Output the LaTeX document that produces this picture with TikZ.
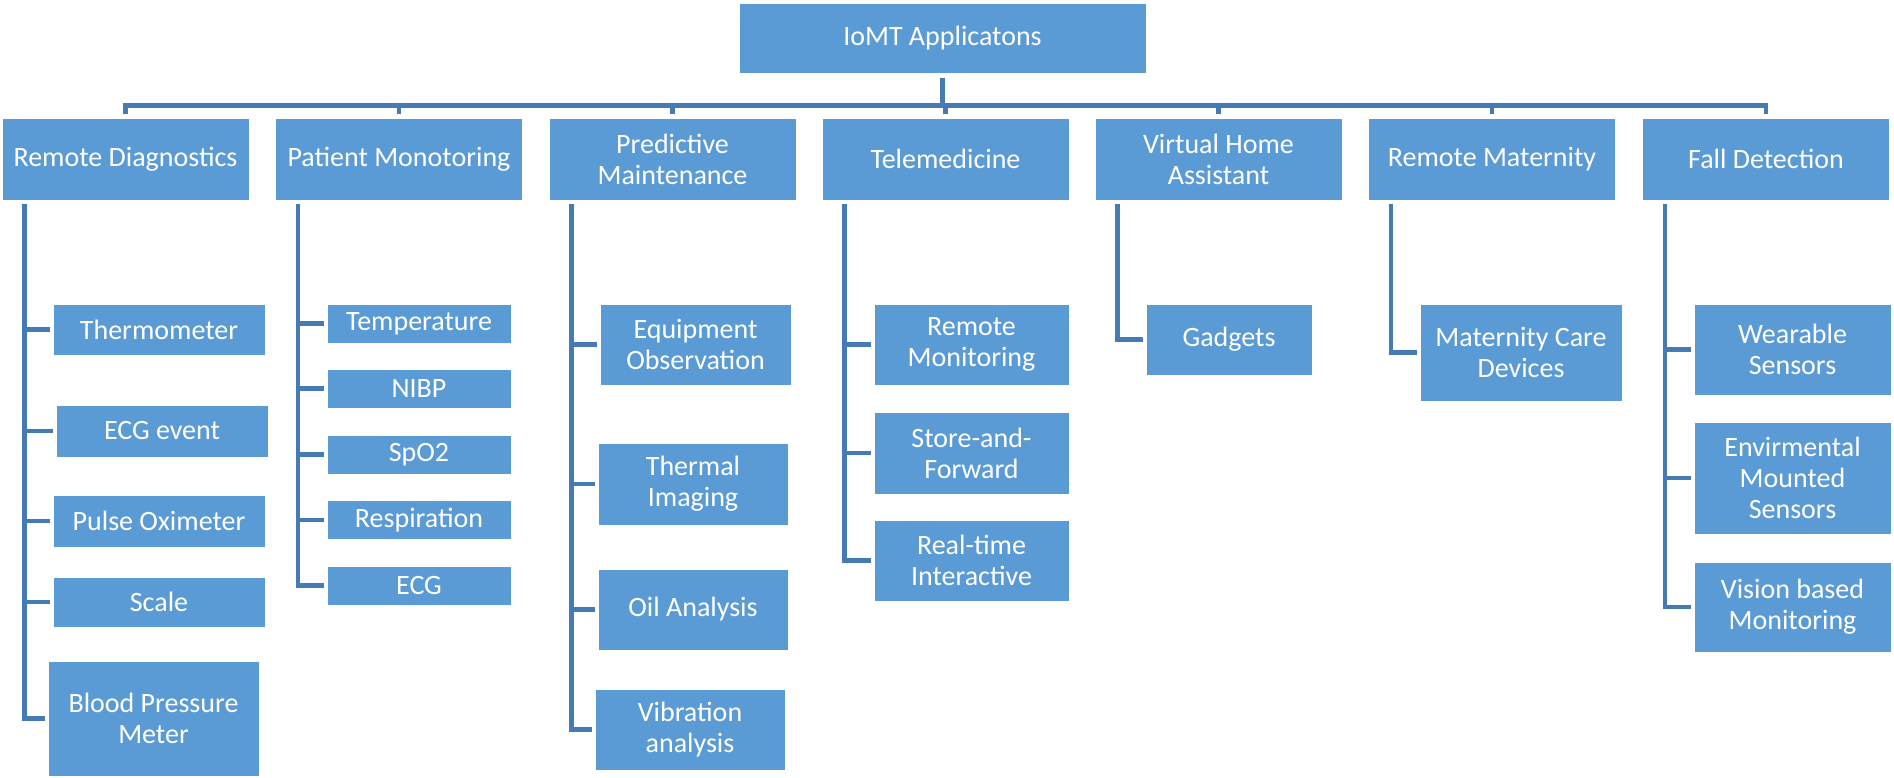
\documentclass[tikz,border=0pt]{standalone}
\usepackage{fontspec}
\setmainfont{Carlito}
\definecolor{boxblue}{RGB}{91,155,213}
\definecolor{lineblue}{RGB}{70,122,180}
\tikzset{
  box/.style={draw=white, line width=0.8pt, fill=boxblue, text=white, align=center,
    inner sep=0pt, font=\fontsize{28}{31}\selectfont},
  link/.style={draw=lineblue, line width=4.5pt},
  branch/.style={link, shorten <=4pt, shorten >=3pt}
}
\begin{document}
\begin{tikzpicture}[x=1pt,y=-1pt]
\useasboundingbox (0,0) rectangle (1894,778);

\node[box, minimum width=407pt, minimum height=70pt] (root) at (942.5,38) {IoMT Applicatons};

% first level
\node[box, minimum width=247pt, minimum height=82pt] (rd) at (125.5,159) {Remote Diagnostics};
\node[box, minimum width=247pt, minimum height=82pt] (pm) at (399,159) {Patient Monotoring};
\node[box, minimum width=247pt, minimum height=82pt] (pdm) at (672.5,159) {Predictive\\Maintenance};
\node[box, minimum width=247pt, minimum height=82pt] (tm) at (945.5,159) {Telemedicine};
\node[box, minimum width=247pt, minimum height=82pt] (vha) at (1218.5,159) {Virtual Home\\Assistant};
\node[box, minimum width=247pt, minimum height=82pt] (rm) at (1492,159) {Remote Maternity};
\node[box, minimum width=247pt, minimum height=82pt] (fd) at (1766,159) {Fall Detection};

\foreach \n in {rd,pm,pdm,tm,vha,rm,fd}
  \draw[link, shorten <=5pt, shorten >=4pt] (root.south) -- ++(0,32) -| (\n.north);

% remote diagnostics
\node[box, minimum width=212pt, minimum height=51pt] (th) at (159,329.5) {Thermometer};
\node[box, minimum width=212pt, minimum height=52pt] (ecge) at (162,431) {ECG event};
\node[box, minimum width=212pt, minimum height=52pt] (po) at (159,521) {Pulse Oximeter};
\node[box, minimum width=212pt, minimum height=50pt] (sc) at (159,602) {Scale};
\node[box, minimum width=211pt, minimum height=115pt] (bpm) at (153.5,718.5) {Blood Pressure\\Meter};
\foreach \c in {th,ecge,po,sc,bpm}
  \draw[branch] ([xshift=23pt]rd.south west) |- (\c.west);

% patient monitoring
\node[box, minimum width=184pt, minimum height=39pt] (temp) at (419,323.5) {Temperature};
\node[box, minimum width=184pt, minimum height=39pt] (nibp) at (419,388.5) {NIBP};
\node[box, minimum width=184pt, minimum height=39pt] (spo) at (419,454.5) {SpO2};
\node[box, minimum width=184pt, minimum height=39pt] (resp) at (419,520) {Respiration};
\node[box, minimum width=184pt, minimum height=39pt] (ecg) at (419,585.5) {ECG};
\foreach \c in {temp,nibp,spo,resp,ecg}
  \draw[branch] ([xshift=23pt]pm.south west) |- (\c.west);

% predictive maintenance
\node[box, minimum width=191pt, minimum height=81pt] (eo) at (695.5,344.5) {Equipment\\Observation};
\node[box, minimum width=190pt, minimum height=82pt] (ti) at (693,484) {Thermal\\Imaging};
\node[box, minimum width=190pt, minimum height=81pt] (oil) at (693,609.5) {Oil Analysis};
\node[box, minimum width=190pt, minimum height=81pt] (vib) at (690,729.5) {Vibration\\analysis};
\foreach \c in {eo,ti,oil,vib}
  \draw[branch] ([xshift=23pt]pdm.south west) |- (\c.west);

% telemedicine
\node[box, minimum width=195pt, minimum height=81pt] (rmon) at (971.5,344.5) {Remote\\Monitoring};
\node[box, minimum width=195pt, minimum height=82pt] (sf) at (971.5,453) {Store-and-\\Forward};
\node[box, minimum width=195pt, minimum height=81pt] (rti) at (971.5,560.5) {Real-time\\Interactive};
\foreach \c in {rmon,sf,rti}
  \draw[branch] ([xshift=23pt]tm.south west) |- (\c.west);

% virtual home assistant
\node[box, minimum width=166pt, minimum height=71pt] (gad) at (1229,339.5) {Gadgets};
\draw[branch] ([xshift=23pt]vha.south west) |- (gad.west);

% remote maternity
\node[box, minimum width=202pt, minimum height=97pt] (mcd) at (1521,352.5) {Maternity Care\\Devices};
\draw[branch] ([xshift=23pt]rm.south west) |- (mcd.west);

% fall detection
\node[box, minimum width=197pt, minimum height=91pt] (ws) at (1792.5,349.5) {Wearable\\Sensors};
\node[box, minimum width=197pt, minimum height=112pt] (ems) at (1792.5,478) {Envirmental\\Mounted\\Sensors};
\node[box, minimum width=197pt, minimum height=90pt] (vbm) at (1792.5,607) {Vision based\\Monitoring};
\foreach \c in {ws,ems,vbm}
  \draw[branch] ([xshift=23pt]fd.south west) |- (\c.west);
\end{tikzpicture}
\end{document}
